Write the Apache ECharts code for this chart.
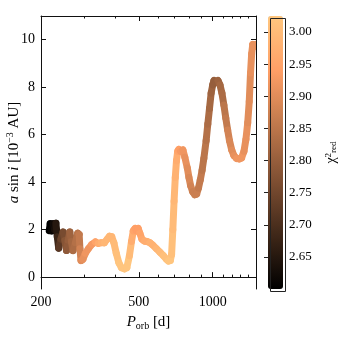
<!DOCTYPE html>
<html>
<head>
<meta charset="utf-8">
<script src="https://cdn.jsdelivr.net/npm/echarts@6/dist/echarts.min.js"></script>
<style>
  html, body { margin: 0; padding: 0; background: #fff; }
  #chart { width: 340px; height: 340px; }
</style>
</head>
<body>
<div id="chart"></div>
<script>
// orbital period [d], a sin i [1e-3 AU], reduced chi^2 along the track
const periods = [216, 218, 221, 224, 227, 230, 233, 236, 241, 246, 250, 254, 258, 262, 266, 270, 276, 282, 286, 288,
  291, 296, 303, 312, 322, 333, 342, 352, 362, 372, 380, 388, 396, 405, 415, 425, 437, 447, 458, 467,
  475, 483, 490, 497, 505, 515, 527, 540, 555, 570, 590, 610, 630, 648, 660, 672, 680, 688, 696, 704,
  712, 720, 728, 740, 756, 770, 788, 800, 813, 828, 845, 860, 875, 890, 905, 920, 940, 955, 970, 985,
  1000, 1012, 1030, 1050, 1070, 1090, 1110, 1130, 1150, 1170, 1195, 1220, 1250, 1280, 1310, 1340, 1365, 1388, 1408, 1425,
  1440, 1455, 1475, 1500]
const asini = [1.95, 2.25, 1.95, 2.25, 2.0, 2.27, 1.7, 1.22, 1.6, 1.9, 1.55, 1.12, 1.55, 1.9, 1.5, 1.12, 1.45, 1.85, 1.8, 1.2,
  0.7, 0.75, 1.0, 1.2, 1.38, 1.48, 1.42, 1.45, 1.45, 1.6, 1.72, 1.7, 1.45, 1.0, 0.6, 0.4, 0.35, 0.4, 0.9, 1.5,
  1.95, 2.05, 1.95, 2.05, 1.85, 1.6, 1.52, 1.5, 1.45, 1.35, 1.2, 1.05, 0.9, 0.75, 0.68, 0.7, 0.95, 2.0, 3.2, 4.2,
  4.9, 5.3, 5.38, 5.3, 5.36, 5.05, 4.6, 4.2, 3.85, 3.6, 3.47, 3.5, 3.75, 4.1, 4.5, 5.0, 5.75, 6.45, 7.1, 7.75,
  8.1, 8.28, 8.2, 8.28, 8.1, 7.75, 7.25, 6.7, 6.2, 5.75, 5.35, 5.12, 5.0, 4.98, 5.02, 5.3, 5.8, 6.5, 7.4, 8.6,
  9.4, 9.8, 9.72, 9.8]
const chi2 = [2.60, 2.60, 2.61, 2.62, 2.63, 2.65, 2.68, 2.72, 2.74, 2.76, 2.78, 2.79, 2.80, 2.81, 2.82, 2.83, 2.84, 2.85, 2.86, 2.88,
  2.90, 2.91, 2.92, 2.92, 2.93, 2.95, 2.97, 2.98, 2.99, 2.99, 2.99, 2.99, 3.00, 3.01, 3.02, 3.02, 3.02, 3.02, 3.00, 2.97,
  2.95, 2.94, 2.94, 2.94, 2.95, 2.96, 2.97, 2.97, 2.98, 2.98, 2.99, 3.00, 3.01, 3.01, 3.02, 3.02, 3.01, 3.00, 2.99, 2.98,
  2.97, 2.95, 2.94, 2.93, 2.92, 2.91, 2.90, 2.89, 2.88, 2.87, 2.87, 2.87, 2.86, 2.86, 2.85, 2.85, 2.84, 2.83, 2.82, 2.81,
  2.80, 2.80, 2.80, 2.81, 2.82, 2.83, 2.85, 2.86, 2.88, 2.89, 2.90, 2.91, 2.92, 2.92, 2.92, 2.91, 2.91, 2.90, 2.90, 2.91,
  2.91, 2.91, 2.91, 2.91]

const xMajorTicks = [200, 500, 1000]
const xMinorTicks = [300, 400, 600, 700, 800, 900, 1100, 1200, 1300, 1400]
const yTicks = [0, 2, 4, 6, 8, 10]
const chi2Ticks = [2.65, 2.70, 2.75, 2.80, 2.85, 2.90, 2.95, 3.00]
const copper = ['#000000', '#402819', '#805033', '#bf784c', '#ff9f66', '#ffc77f']

const serif = 'Liberation Serif'
const ink = '#111'
const lg = v => Math.log10(v)
const pts = periods.map((p, i) => [lg(p), asini[i], chi2[i]])

const chart = echarts.init(document.getElementById('chart'))

function xAxisFor(position, ticks, len, labels) {
  return {
    gridIndex: 0,
    type: 'value',
    position: position,
    min: lg(200),
    max: lg(1500),
    axisLine: { show: len > 3, lineStyle: { color: ink, width: 1 } },
    axisTick: { inside: true, length: len, customValues: ticks.map(lg), lineStyle: { color: ink } },
    axisLabel: {
      show: labels,
      customValues: ticks.map(lg),
      formatter: v => String(Math.round(Math.pow(10, v))),
      fontFamily: serif,
      fontSize: 14,
      color: '#000',
      margin: 6
    },
    splitLine: { show: false }
  }
}

function yAxisFor(position, labels) {
  return {
    gridIndex: 0,
    type: 'value',
    position: position,
    min: -0.5,
    max: 11,
    axisLine: { show: true, lineStyle: { color: ink, width: 1 } },
    axisTick: { inside: true, length: 5, customValues: yTicks, lineStyle: { color: ink } },
    axisLabel: {
      show: labels,
      customValues: yTicks,
      fontFamily: serif,
      fontSize: 14,
      color: '#000',
      margin: 6
    },
    splitLine: { show: false }
  }
}

const xMain = xAxisFor('bottom', xMajorTicks, 5, true)
xMain.name = '{it|P}{sub|orb} [d]'
xMain.nameLocation = 'middle'
xMain.nameGap = 24
xMain.nameMoveOverlap = false
xMain.nameTextStyle = {
  fontFamily: serif, fontSize: 15, color: '#000',
  rich: {
    it: { fontFamily: serif, fontSize: 15, fontStyle: 'italic', lineHeight: 18 },
    sub: { fontFamily: serif, fontSize: 10, verticalAlign: 'bottom', lineHeight: 12 }
  }
}

const yMain = yAxisFor('left', true)
yMain.name = '{it|a} sin {it|i} [10{sup|−3} AU]'
yMain.nameLocation = 'middle'
yMain.nameGap = 18
yMain.nameMoveOverlap = false
yMain.nameTextStyle = {
  fontFamily: serif, fontSize: 15, color: '#000',
  rich: {
    it: { fontFamily: serif, fontSize: 15, fontStyle: 'italic', lineHeight: 18 },
    sup: { fontFamily: serif, fontSize: 10, verticalAlign: 'top', lineHeight: 12 }
  }
}

chart.setOption({
  animation: false,
  backgroundColor: '#fff',
  grid: [
    { left: 41, top: 16, width: 215, height: 273, outerBoundsMode: 'none', containLabel: false },
    { left: 268, top: 16, width: 15, height: 273, outerBoundsMode: 'none', containLabel: false }
  ],
  xAxis: [
    xMain,
    xAxisFor('bottom', xMinorTicks, 2.5, false),
    xAxisFor('top', xMajorTicks, 5, false),
    xAxisFor('top', xMinorTicks, 2.5, false),
    { gridIndex: 1, type: 'value', min: 0, max: 1, show: false }
  ],
  yAxis: [
    yMain,
    yAxisFor('right', false),
    {
      gridIndex: 1,
      type: 'value',
      position: 'right',
      min: 2.60,
      max: 3.025,
      z: 10,
      axisLine: { show: false },
      axisTick: { inside: true, length: 4, customValues: chi2Ticks, lineStyle: { color: '#222' } },
      axisLabel: {
        customValues: chi2Ticks,
        formatter: v => v.toFixed(2),
        fontFamily: serif,
        fontSize: 13,
        color: '#000',
        margin: 6
      },
      splitLine: { show: false },
      name: 'χ{sup|2}{sub|red}',
      nameLocation: 'middle',
      nameGap: 41,
      nameMoveOverlap: false,
      nameTextStyle: {
        fontFamily: serif, fontSize: 14, color: '#000',
        rich: {
          sup: { fontFamily: serif, fontSize: 9, verticalAlign: 'top', lineHeight: 10 },
          sub: { fontFamily: serif, fontSize: 9, verticalAlign: 'bottom', lineHeight: 10 }
        }
      }
    }
  ],
  visualMap: {
    type: 'continuous',
    seriesIndex: 0,
    dimension: 2,
    min: 2.60,
    max: 3.025,
    calculable: false,
    hoverLink: false,
    left: 268,
    top: 16,
    padding: 0,
    itemWidth: 15,
    itemHeight: 273,
    inRange: { color: copper }
  },
  graphic: [{
    type: 'rect',
    left: 268,
    top: 16,
    z: 100,
    shape: { width: 15, height: 273 },
    style: { fill: 'none', stroke: '#222', lineWidth: 1 }
  }],
  series: [{
    type: 'custom',
    xAxisIndex: 0,
    yAxisIndex: 0,
    clip: true,
    dimensions: ['logP', 'asini', 'chi2'],
    encode: { x: 0, y: 1 },
    data: pts,
    renderItem(params, api) {
      const i = params.dataIndex
      if (i >= pts.length - 1) return null
      const a = api.coord([api.value(0), api.value(1)])
      const b = api.coord([pts[i + 1][0], pts[i + 1][1]])
      return {
        type: 'line',
        shape: { x1: a[0], y1: a[1], x2: b[0], y2: b[1] },
        style: { stroke: api.visual('color'), lineWidth: 7, lineCap: 'round' }
      }
    }
  }]
})
</script>
</body>
</html>
